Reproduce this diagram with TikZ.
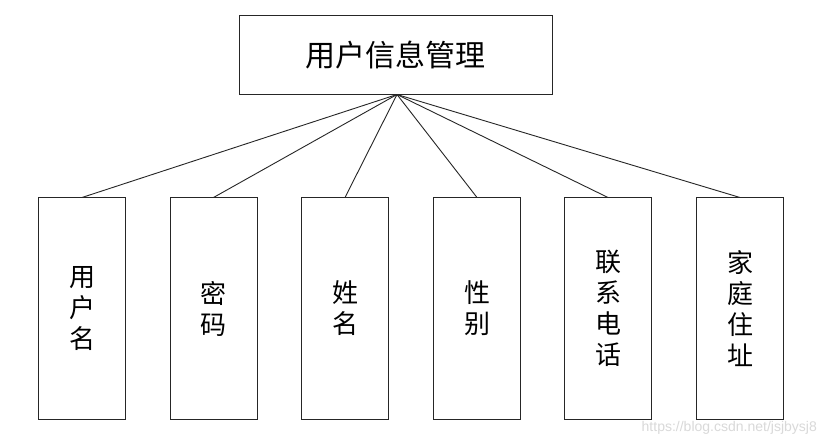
\documentclass[tikz,border=0pt]{standalone}
\usepackage{fontspec}
\newfontfamily\cjk{Noto Sans CJK SC}
\setmainfont{Liberation Sans}
\begin{document}
\begin{tikzpicture}[x=1pt,y=-1pt,
  box/.style={draw=black!85, line width=1pt, inner sep=0pt},
  leaf/.style={box, minimum width=87pt, minimum height=221pt, align=center, font=\cjk\fontsize{26}{31}\selectfont},
  link/.style={draw=black!85, line width=0.9pt}]
\useasboundingbox (0,0) rectangle (826,446);
\fill[white] (0,0) rectangle (826,446);
\node[box, minimum width=313pt, minimum height=79pt, font=\cjk\fontsize{30}{34}\selectfont] (top) at (395.5,55) {用户信息管理};
\coordinate (apex) at (397,94.5);
\node[leaf] (a) at (82,308.5) {用\\户\\名};
\node[leaf] (b) at (213.5,308.5) {密\\码};
\node[leaf] (c) at (345,308.5) {姓\\名};
\node[leaf] (d) at (477,308.5) {性\\别};
\node[leaf] (e) at (608,308.5) {联\\系\\电\\话};
\node[leaf] (f) at (740,308.5) {家\\庭\\住\\址};
\foreach \n in {a,b,c,d,e,f} \draw[link] (apex) -- (\n.north);
\node[text=black!15, font=\fontsize{14}{16}\selectfont, anchor=east, inner sep=0pt] (wm) at (817,428) {https://blog.csdn.net/jsjbysj8};
\end{tikzpicture}
\end{document}
